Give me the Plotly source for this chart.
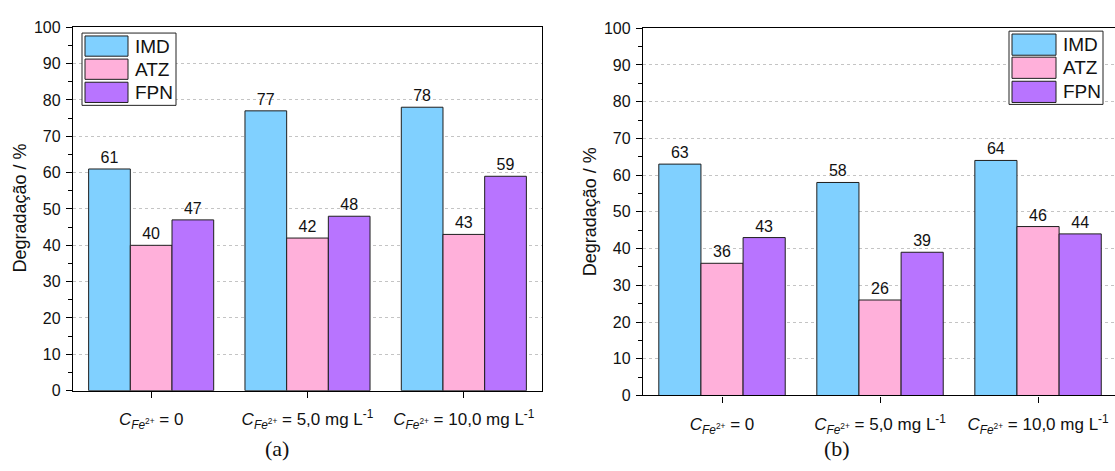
import plotly.graph_objects as go

W, H = 1115, 471

# Categories (Fe2+ dose) and degradation results, panel (a) and panel (b)
categories = [
    "<i>C</i><sub><i>Fe</i><sup>2+</sup></sub> = 0",
    "<i>C</i><sub><i>Fe</i><sup>2+</sup></sub> = 5,0 mg L<sup>-1</sup>",
    "<i>C</i><sub><i>Fe</i><sup>2+</sup></sub> = 10,0 mg L<sup>-1</sup>",
]
series_names = ["IMD", "ATZ", "FPN"]
series_colors = ["#80D0FF", "#FFB0DA", "#B874FF"]

imd_a = [61, 77, 78]
atz_a = [40, 42, 43]
fpn_a = [47, 48, 59]

imd_b = [63, 58, 64]
atz_b = [36, 26, 46]
fpn_b = [43, 39, 44]

yticks = list(range(0, 101, 10))
panel_labels = ["(a)", "(b)"]


def px_x(x):
    return x / W


def px_y(y):
    return 1 - y / H


font_main = "Liberation Sans, Arial, sans-serif"

fig = go.Figure()

panels = [
    ("x", "y", [imd_a, atz_a, fpn_a]),
    ("x2", "y2", [imd_b, atz_b, fpn_b]),
]
xpos = [0, 1, 2]
for xa, ya, values in panels:
    for name, color, vals in zip(series_names, series_colors, values):
        fig.add_trace(go.Bar(
            x=xpos, y=vals, name=name, xaxis=xa, yaxis=ya,
            marker=dict(color=color, line=dict(color="#1e1e1e", width=1)),
            text=[str(v) for v in vals], textposition="outside",
            textfont=dict(size=16, color="#111", family=font_main),
            cliponaxis=False, showlegend=False,
        ))

axis_common = dict(
    showline=True, linecolor="black", linewidth=1.4,
    ticks="outside", tickcolor="black", tickwidth=1.2,
    tickfont=dict(size=16, color="#111", family=font_main),
)
x_common = dict(
    axis_common, tickmode="array", tickvals=xpos, ticktext=categories,
    ticklen=6, showgrid=False, mirror=True, zeroline=False,
    ticklabelstandoff=7,
)
x_common["tickfont"] = dict(size=17, color="#111", family=font_main)
y_common = dict(
    axis_common, range=[0, 100], tickmode="array", tickvals=yticks,
    ticklen=6, showgrid=True, gridcolor="#c4c4c4", griddash="dot", gridwidth=1,
    zeroline=False, ticklabelstandoff=2,
    minor=dict(tick0=0, dtick=5, ticks="outside",
               ticklen=4, tickcolor="black", tickwidth=1.2, showgrid=False),
)

fig.update_layout(
    width=W, height=H,
    margin=dict(l=0, r=0, t=0, b=0),
    paper_bgcolor="white", plot_bgcolor="white",
    barmode="group", bargap=0.2, bargroupgap=0,
    showlegend=False,
    xaxis=dict(x_common, domain=[px_x(73), px_x(542)], range=[-0.5, 2.5],
               anchor="y"),
    yaxis=dict(y_common, domain=[px_y(397), px_y(20)], anchor="x", mirror=True),
    xaxis2=dict(x_common, domain=[px_x(643), 1.0], range=[-0.5, 2.487],
                anchor="y2"),
    yaxis2=dict(y_common, domain=[px_y(402), px_y(21)], anchor="x2", mirror=False),
)

shapes = []
annotations = []

# Hand-drawn legends with large swatches
legend_boxes = [
    dict(box=(82, 176, 26, 101), sw=(85, 128), rows=[(29, 50), (53, 74), (77, 98)], tx=133),
    dict(box=(1009, 1103, 24, 100), sw=(1012, 1056), rows=[(27, 49), (51, 73), (76, 98)], tx=1061),
]
for lg in legend_boxes:
    x0, x1, y0, y1 = lg["box"]
    shapes.append(dict(type="rect", xref="paper", yref="paper",
                       x0=px_x(x0), x1=px_x(x1), y0=px_y(y1), y1=px_y(y0),
                       line=dict(color="#222", width=1), fillcolor="white", layer="above"))
    for (r0, r1), name, color in zip(lg["rows"], series_names, series_colors):
        shapes.append(dict(type="rect", xref="paper", yref="paper",
                           x0=px_x(lg["sw"][0]), x1=px_x(lg["sw"][1]),
                           y0=px_y(r1), y1=px_y(r0),
                           line=dict(color="#1e1e1e", width=1), fillcolor=color,
                           layer="above"))
        annotations.append(dict(xref="paper", yref="paper", x=px_x(lg["tx"]),
                                y=px_y((r0 + r1) / 2), text=name, showarrow=False,
                                xanchor="left", yanchor="middle",
                                font=dict(size=19, color="#111", family=font_main)))

# Axis titles
for xc, yc in [(20, 208), (590, 212)]:
    annotations.append(dict(xref="paper", yref="paper", x=px_x(xc), y=px_y(yc),
                            text="Degradação / %", textangle=-90, showarrow=False,
                            xanchor="center", yanchor="middle",
                            font=dict(size=18, color="#111", family=font_main)))

# Panel labels
for label, xc in zip(panel_labels, [277, 837]):
    annotations.append(dict(xref="paper", yref="paper", x=px_x(xc), y=px_y(457),
                            text=label, showarrow=False, xanchor="center",
                            yanchor="middle",
                            font=dict(size=22, color="#111",
                                      family="Liberation Serif, Times New Roman, serif")))

fig.update_layout(shapes=shapes, annotations=annotations)
fig.write_html("out.html")
